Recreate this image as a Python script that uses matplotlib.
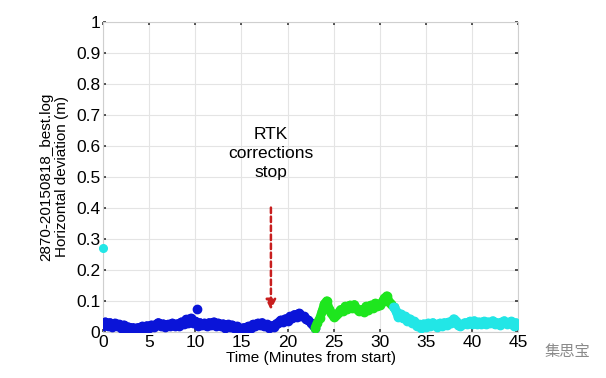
"""Horizontal deviation of a GNSS log before and after RTK corrections stop."""

import matplotlib

matplotlib.use("Agg")
import matplotlib.pyplot as plt
import numpy as np

plt.rcParams["font.family"] = ["Liberation Sans", "Noto Sans CJK SC", "DejaVu Sans"]

# minutes from start, deviation in metres
blue_t = np.arange(0, 23.01, 0.25)
blue_dev = [
    0.018, 0.032, 0.020, 0.030, 0.016, 0.028, 0.020, 0.024, 0.012, 0.022,
    0.010, 0.016, 0.008, 0.014, 0.006, 0.014, 0.010, 0.018, 0.012, 0.020,
    0.014, 0.022, 0.016, 0.024, 0.030, 0.018, 0.026, 0.016, 0.024, 0.020,
    0.028, 0.018, 0.026, 0.020, 0.032, 0.024, 0.040, 0.028, 0.044, 0.030,
    0.034, 0.020, 0.030, 0.022, 0.028, 0.018, 0.030, 0.022, 0.032, 0.020,
    0.028, 0.018, 0.026, 0.014, 0.024, 0.016, 0.022, 0.012, 0.018, 0.010,
    0.008, 0.014, 0.010, 0.018, 0.014, 0.024, 0.020, 0.028, 0.022, 0.030,
    0.018, 0.024, 0.012, 0.020, 0.016, 0.026, 0.030, 0.038, 0.032, 0.042,
    0.036, 0.050, 0.044, 0.056, 0.048, 0.060, 0.052, 0.050, 0.040, 0.038,
    0.030, 0.022, 0.014,
]
blue_spike_t = [10.2]
blue_spike_dev = [0.074]

green_t = np.arange(23.0, 31.51, 0.25)
green_dev = [
    0.014, 0.030, 0.044, 0.066, 0.090, 0.100, 0.074, 0.062, 0.048, 0.054,
    0.060, 0.072, 0.066, 0.082, 0.074, 0.086, 0.078, 0.088, 0.074, 0.066,
    0.072, 0.064, 0.082, 0.072, 0.086, 0.078, 0.092, 0.082, 0.088, 0.096,
    0.108, 0.116, 0.098, 0.090, 0.080,
]

cyan_t = np.arange(31.5, 45.01, 0.25)
cyan_dev = [
    0.080, 0.068, 0.048, 0.058, 0.044, 0.050, 0.036, 0.042, 0.030, 0.034,
    0.018, 0.024, 0.012, 0.026, 0.016, 0.028, 0.018, 0.030, 0.022, 0.016,
    0.028, 0.020, 0.030, 0.022, 0.032, 0.028, 0.042, 0.034, 0.022, 0.018,
    0.026, 0.030, 0.024, 0.034, 0.026, 0.036, 0.024, 0.032, 0.026, 0.034,
    0.024, 0.032, 0.028, 0.036, 0.024, 0.030, 0.022, 0.032, 0.036, 0.026,
    0.030, 0.034, 0.020, 0.030, 0.022,
]
cyan_outlier_t = [0.0]
cyan_outlier_dev = [0.27]

x_ticks = list(range(0, 46, 5))
y_ticks = [0, 0.1, 0.2, 0.3, 0.4, 0.5, 0.6, 0.7, 0.8, 0.9, 1]
y_tick_labels = ["0", "0.1", "0.2", "0.3", "0.4", "0.5", "0.6", "0.7", "0.8", "0.9", "1"]

arrow_x = 18.2
arrow_from = 0.41
arrow_to = 0.062


def draw_series(ax, t, dev, color):
    ax.plot(t, dev, color=color, lw=6.5, solid_capstyle="round",
            solid_joinstyle="round", marker="o", ms=6, zorder=3)


def main() -> None:
    fig = plt.figure(figsize=(6.06, 3.78), dpi=100)
    ax = fig.add_axes([0.170, 0.122, 0.685, 0.820])

    draw_series(ax, blue_t, blue_dev, "#0a14d8")
    ax.plot(blue_spike_t, blue_spike_dev, "o", color="#0a14d8", ms=6, zorder=3)
    draw_series(ax, green_t, green_dev, "#1ee61e")
    draw_series(ax, cyan_t, cyan_dev, "#22e6e6")
    ax.plot(cyan_outlier_t, cyan_outlier_dev, "o", color="#22e6e6", ms=5.5,
            zorder=3, clip_on=False)

    ax.annotate("", xy=(arrow_x, arrow_to), xytext=(arrow_x, arrow_from),
                arrowprops=dict(arrowstyle="-|>", color="#c81e1e", lw=1.8,
                                ls=(0, (2.2, 1.4)), mutation_scale=15))
    ax.text(arrow_x, 0.49, "RTK\ncorrections\nstop", ha="center", va="bottom",
            fontsize=12.5, linespacing=1.35)

    ax.set_xlim(0, 45)
    ax.set_ylim(0, 1)
    ax.set_xticks(x_ticks)
    ax.set_yticks(y_ticks)
    ax.set_yticklabels(y_tick_labels)
    ax.tick_params(direction="in", length=2.5, width=1.2, color="#333333",
                   labelsize=12.5, top=True, right=True, pad=2)
    ax.grid(color="#e4e4e4", lw=0.8)
    ax.set_axisbelow(True)
    for side in ax.spines.values():
        side.set_color("#cfcfcf")
        side.set_linewidth(0.8)

    ax.set_xlabel("Time (Minutes from start)", fontsize=11, labelpad=1)
    ax.set_ylabel("2870-20150818_best.log\nHorizontal deviation (m)",
                  fontsize=11, linespacing=1.15, labelpad=5)

    fig.text(0.898, 0.068, "集思宝", fontsize=11, color="#8a8a8a",
             ha="left", va="center")

    fig.savefig("out.png", dpi=100)
    plt.close(fig)


if __name__ == "__main__":
    main()
